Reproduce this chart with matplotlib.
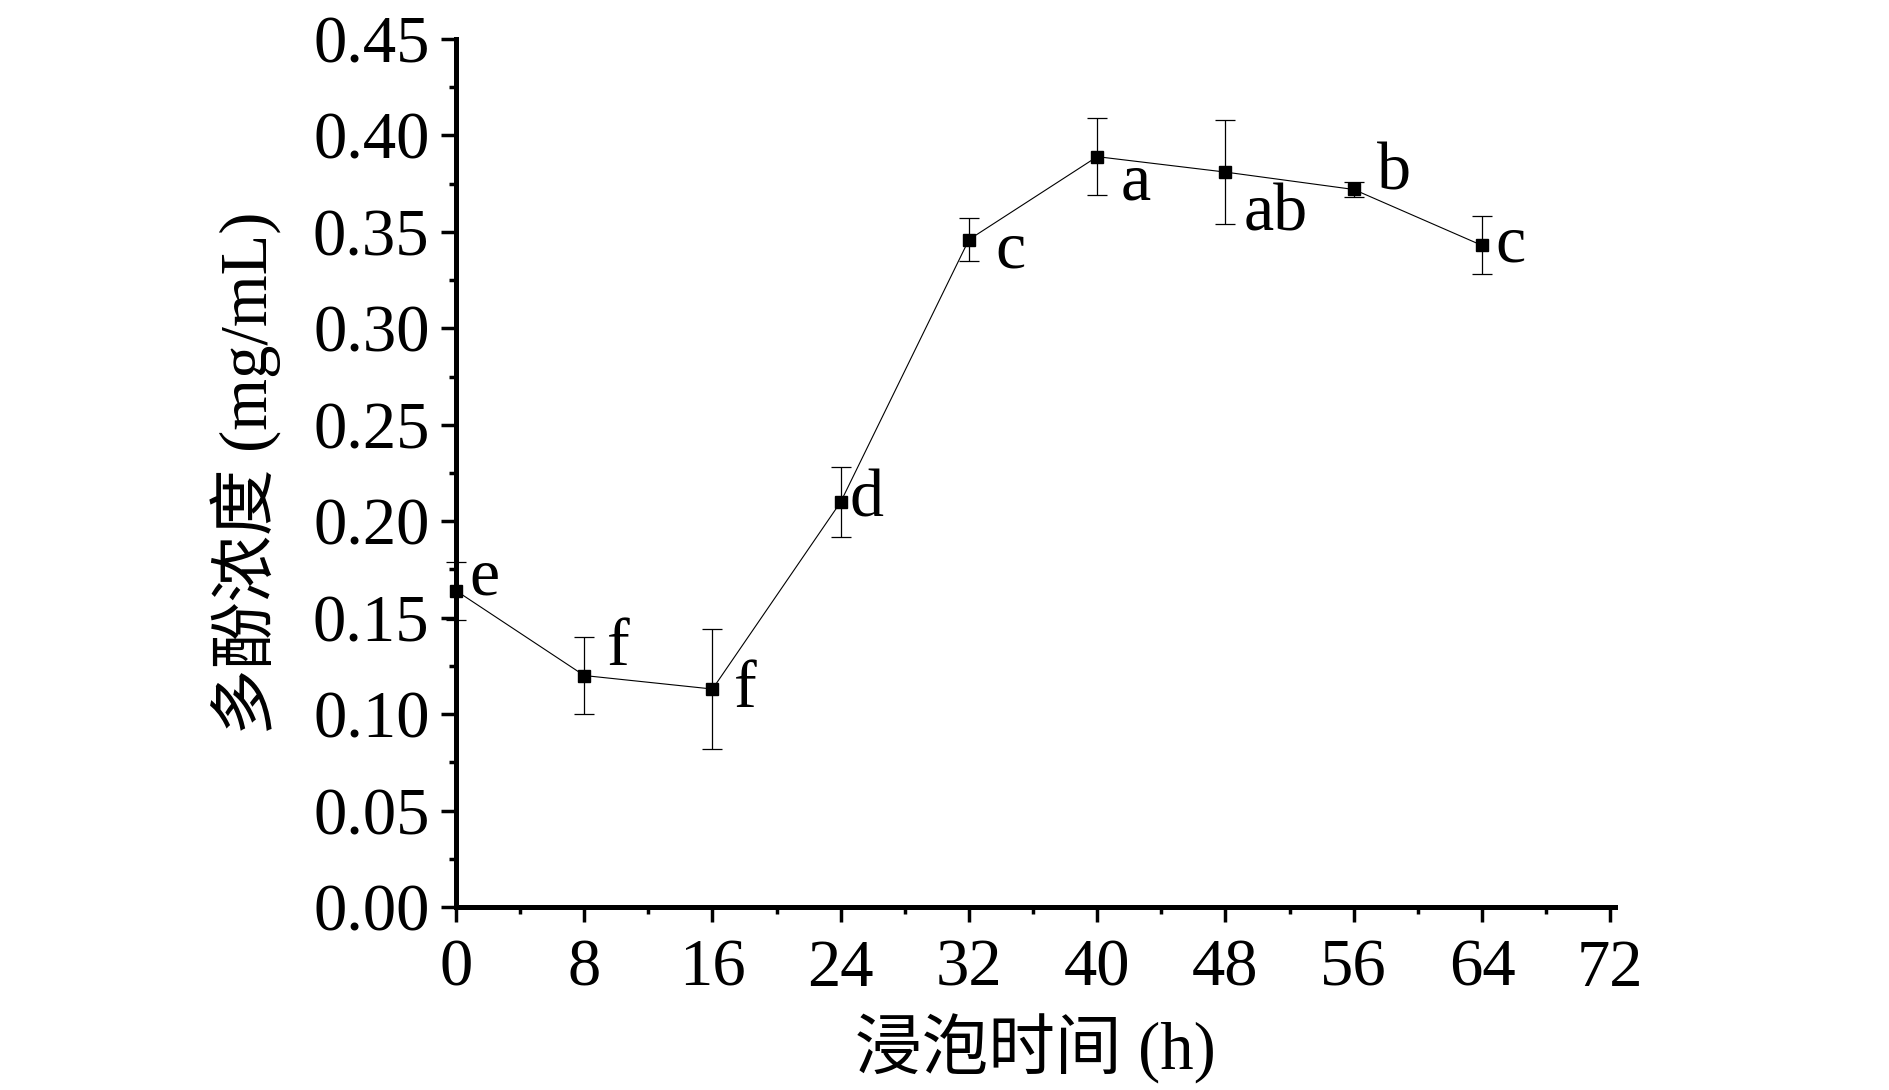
import matplotlib
matplotlib.use("Agg")
import matplotlib.pyplot as plt
from matplotlib.ticker import MultipleLocator, FormatStrFormatter

# Data
hours = [0, 8, 16, 24, 32, 40, 48, 56, 64]
conc = [0.164, 0.120, 0.113, 0.210, 0.346, 0.389, 0.381, 0.372, 0.343]
err = [0.015, 0.020, 0.031, 0.018, 0.011, 0.020, 0.027, 0.004, 0.015]
letters = ["e", "f", "f", "d", "c", "a", "ab", "b", "c"]
# label offsets in pixels (dx, dy) relative to each point
label_dx = [13, 23, 21, 9, 26, 23, 18, 23, 13]
label_dy = [-4, 11, -18, -15, -28, -43, -58, 0, -16]
xticks = [0, 8, 16, 24, 32, 40, 48, 56, 64, 72]
xlabel = "浸泡时间 (h)"
ylabel = "多酚浓度 (mg/mL)"

fam = ["Liberation Serif", "Noto Sans CJK SC", "DejaVu Sans"]
plt.rcParams["font.family"] = fam

fig = plt.figure(figsize=(18.9, 10.9), dpi=100)
ax = fig.add_axes([456 / 1890, 1 - 907 / 1090, (1615 - 456) / 1890, (907 - 39) / 1090])

ax.errorbar(hours, conc, yerr=err, fmt="s-", color="black", ms=8, lw=0.8,
            elinewidth=0.9, capsize=7, capthick=0.9, clip_on=False, zorder=3)

for x, y, t, dx, dy in zip(hours, conc, letters, label_dx, label_dy):
    ax.annotate(t, (x, y), xytext=(dx, dy), textcoords="offset pixels",
                ha="left", va="baseline", fontsize=49, family=fam)

ax.set_xlim(0, 72.3)
ax.set_ylim(0, 0.45)
ax.set_xticks(xticks)
ax.xaxis.set_minor_locator(MultipleLocator(4))
ax.yaxis.set_major_locator(MultipleLocator(0.05))
ax.yaxis.set_minor_locator(MultipleLocator(0.025))
ax.yaxis.set_major_formatter(FormatStrFormatter("%.2f"))

for s in ["top", "right"]:
    ax.spines[s].set_visible(False)
for s in ["left", "bottom"]:
    ax.spines[s].set_linewidth(3.6)

ax.tick_params(axis="both", which="major", direction="out", length=11, width=2.5,
               labelsize=48, pad=8)
ax.tick_params(axis="both", which="minor", direction="out", length=5, width=2.5)
ax.tick_params(axis="x", which="major", pad=12)

ax.set_xlabel(xlabel, fontsize=48, family=fam, labelpad=10)
ax.set_ylabel(ylabel, fontsize=48, family=fam, labelpad=22)

fig.savefig("out.png", dpi=100)
